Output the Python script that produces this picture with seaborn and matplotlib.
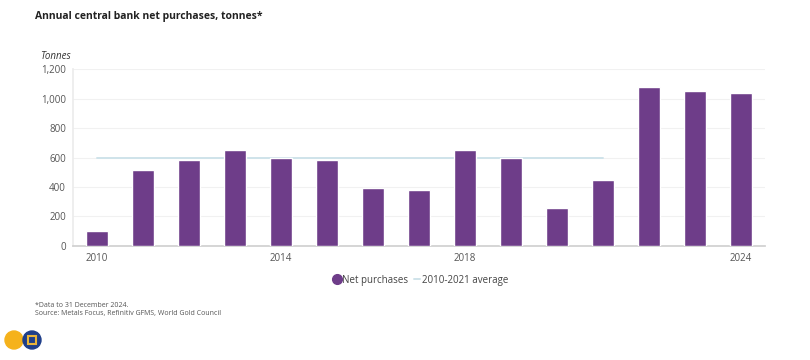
import pandas as pd
import matplotlib.pyplot as plt
import seaborn as sns
from matplotlib.lines import Line2D
from matplotlib.patches import Circle, Rectangle

years = list(range(2010, 2025))
purchases = [100, 512, 580, 654, 600, 580, 396, 377, 654, 600, 254, 444, 1082, 1054, 1041]
avg_years = list(range(2010, 2022))
avg_value = 600
shown_years = [2010, 2014, 2018, 2024]

purple = '#6e3d89'
avg_color = '#cfe3ea'

sns.set_theme(style='white')
plt.rcParams['font.family'] = ['Open Sans', 'DejaVu Sans']

df = pd.DataFrame({'year': [str(y) for y in years], 'tonnes': purchases})
avg_df = pd.DataFrame({'pos': [years.index(y) for y in avg_years],
                       'tonnes': [avg_value] * len(avg_years)})

fig = plt.figure(figsize=(8.1, 3.6), dpi=100)
ax = fig.add_axes([0.090, 0.317, 0.854, 0.491])

sns.barplot(data=df, x='year', y='tonnes', color=purple, width=0.48,
            saturation=1, ax=ax, zorder=3)
sns.lineplot(data=avg_df, x='pos', y='tonnes', color=avg_color, lw=1.4,
             ax=ax, zorder=2)

ax.set_xlim(-0.52, len(years) - 0.48)
ax.set_ylim(0, 1200)
ax.set_yticks(range(0, 1201, 200))
ax.set_yticklabels([f'{v:,}' for v in range(0, 1201, 200)])
ax.set_xticks([years.index(y) for y in shown_years])
ax.set_xticklabels([str(y) for y in shown_years])
ax.set_xlabel('')
ax.set_ylabel('')
ax.grid(axis='y', color='#f1f1f1', lw=0.8, zorder=0)
for s in ['top', 'right']:
    ax.spines[s].set_visible(False)
ax.spines['left'].set_color('#ececec')
ax.spines['bottom'].set_color('#d0d0d0')
ax.tick_params(axis='both', length=0, labelsize=7, colors='#555555', pad=5)

fig.text(0.043, 0.955, 'Annual central bank net purchases, tonnes*', fontsize=7.5,
         fontweight='bold', color='#222222', va='center')
fig.text(0.049, 0.842, 'Tonnes', fontsize=7, style='italic', color='#333333', va='center')

handles = [Line2D([], [], marker='o', ls='', color=purple, markersize=7),
           Line2D([], [], color=avg_color, lw=1.4)]
fig.legend(handles, ['Net purchases', '2010-2021 average'], loc='center',
           bbox_to_anchor=(0.52, 0.222), ncol=2, frameon=False, fontsize=7,
           handlelength=0.6, handletextpad=0.2, columnspacing=0.6,
           labelcolor='#444444')

fig.text(0.043, 0.152, '*Data to 31 December 2024.', fontsize=5, color='#555555', va='center')
fig.text(0.043, 0.129, 'Source: Metals Focus, Refinitiv GFMS, World Gold Council',
         fontsize=5, color='#555555', va='center')

# small logo in the corner
fig.patches.append(Circle((14, 20), 9, transform=None, color='#f5b21b'))
fig.patches.append(Circle((32, 20), 9, transform=None, color='#1f3f8a'))
fig.patches.append(Rectangle((28, 16), 8, 8, transform=None, fill=False,
                             edgecolor='#e9b43a', lw=1.5))

fig.savefig('out.png', dpi=100)
